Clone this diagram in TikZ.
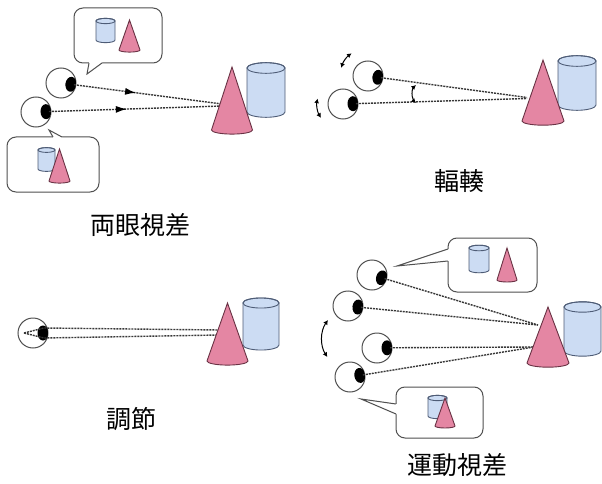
\documentclass[tikz,border=0pt]{standalone}
\usepackage{fontspec}
\usepackage{tikz}
\usetikzlibrary{arrows.meta, decorations.markings, calc}
\newfontfamily\jpfont{Noto Sans CJK JP}
\definecolor{outline}{RGB}{80,80,80}
\definecolor{sightgray}{RGB}{55,55,55}
\definecolor{conefill}{RGB}{228,134,163}
\definecolor{coneline}{RGB}{105,50,68}
\definecolor{cylfill}{RGB}{204,220,243}
\definecolor{cylline}{RGB}{78,92,118}

\tikzset{
  eyeball/.style={circle, draw=outline, line width=1pt, fill=white, minimum size=30pt, inner sep=0pt},
  sightline/.style={draw=sightgray, line width=1.4pt, dash pattern=on 2pt off 1pt},
  midarrow/.style={postaction={decorate}, decoration={markings, mark=at position #1 with {\arrow[solid, black]{Latex[length=11pt,width=7pt]}}}},
  bubble/.style={draw=outline, line width=1pt, rounded corners=9pt, fill=white, inner sep=0pt},
  tailline/.style={draw=outline, line width=1pt, line join=miter},
  conebody/.style={draw=coneline, line width=0.9pt, fill=conefill},
  cylbody/.style={draw=cylline, line width=0.9pt, fill=cylfill},
  turnarrow/.style={line width=1pt, {Latex[length=4.5pt,width=5pt]}-{Latex[length=4.5pt,width=5pt]}},
  caption/.style={font=\jpfont\fontsize{25}{30}\selectfont, inner sep=0pt},
}

% eye: name, x, y, gaze angle
\newcommand{\eyeat}[4]{%
  \node[eyeball] (#1) at (#2,#3) {};
  \begin{scope}
    \clip (#1.center) circle (15pt);
    \fill[shift={(#1.center)}, rotate=#4] (10pt,0) ellipse (5.5pt and 7.5pt);
  \end{scope}
  \coordinate (#1-p) at ($(#1.center)+(#4:13pt)$);
}
% cone: base centre x, base y, half width, height
\newcommand{\coneat}[4]{%
  \filldraw[conebody] (#1,#2-#4) -- (#1-#3,#2)
    arc[start angle=180, end angle=360, x radius=#3pt, y radius=0.2*#3pt] -- cycle;
}
% cylinder: centre x, top y, half width, height
\newcommand{\cylat}[4]{%
  \filldraw[cylbody] (#1-#3,#2) -- (#1-#3,#2+#4)
    arc[start angle=180, end angle=360, x radius=#3pt, y radius=0.28*#3pt] -- (#1+#3,#2)
    arc[start angle=0, end angle=180, x radius=#3pt, y radius=0.28*#3pt] -- cycle;
  \draw[cylbody, fill=none] (#1,#2) ellipse [x radius=#3pt, y radius=0.28*#3pt];
}

\begin{document}
\begin{tikzpicture}[x=1pt, y=-1pt]
    \useasboundingbox (0,0) rectangle (602,484);

    % Binocular disparity
    \node[bubble, minimum width=88pt, minimum height=55pt] (view1) at (118,35.5) {};
    \coordinate (view1-tip) at (87,74);
    \fill[white] (89,61) -- (89,63) -- (view1-tip) -- (102,63) -- (102,61) -- cycle;
    \draw[tailline] (89,63) -- (view1-tip) -- (102,63);
    \cylat{105.5}{21}{9.5}{19}
    \coneat{129.5}{50}{10.5}{30}

    \node[bubble, minimum width=92pt, minimum height=55pt] (view2) at (53,164.5) {};
    \coordinate (view2-tip) at (49,130);
    \fill[white] (53,139) -- (53,137) -- (view2-tip) -- (62,137) -- (62,139) -- cycle;
    \draw[tailline] (53,137) -- (view2-tip) -- (62,137);
    \cylat{46.5}{150}{8.5}{19}
    \coneat{59.5}{181}{10.5}{32}

    \eyeat{bin1}{61}{83}{-7.5}
    \eyeat{bin2}{36}{112}{2}
    \coordinate (bin-tgt1) at (222,104);
    \coordinate (bin-tgt2) at (222,106);
    \draw[sightline, midarrow=0.42] (bin1-p) -- (bin-tgt1);
    \draw[sightline, midarrow=0.45] (bin2-p) -- (bin-tgt2);
    \cylat{266}{68}{19}{44}
    \coneat{232}{130}{20.5}{63}
    \node[caption] (lbl-bin) at (140,225) {両眼視差};

    % Convergence
    \eyeat{conv1}{368}{76}{-7.5}
    \eyeat{conv2}{343}{104}{1.6}
    \coordinate (conv-tgt) at (527,98);
    \draw[sightline] (conv1-p) -- ([yshift=0.5pt]conv-tgt);
    \draw[sightline] (conv2-p) -- ([yshift=-0.5pt]conv-tgt);
    \draw[turnarrow] ([shift={(163:28pt)}]conv1.center) arc[start angle=163, end angle=126, radius=28pt];
    \draw[turnarrow] ([shift={(168:26pt)}]conv2.center) arc[start angle=168, end angle=212, radius=26pt];
    \coordinate (conv-angle) at (424,94);
    \draw[turnarrow] ([shift={(132:12pt)}]conv-angle) arc[start angle=132, end angle=228, radius=12pt];
    \cylat{577}{61}{19}{44}
    \coneat{543}{121}{21}{61}
    \node[caption] (lbl-conv) at (459,181) {輻輳};

    % Accommodation
    \eyeat{acc}{33}{333}{0}
    \coordinate (acc-back) at (24,333);
    \coordinate (acc-tgt1) at (219,330);
    \coordinate (acc-tgt2) at (219,335);
    \draw[sightline] (acc-back) -- (44,328) -- (acc-tgt1);
    \draw[sightline] (acc-back) -- (44,338) -- (acc-tgt2);
    \cylat{261}{303}{18}{42}
    \coneat{227.5}{361}{20.5}{58}
    \node[caption] (lbl-acc) at (131,419) {調節};

    % Motion parallax
    \node[bubble, minimum width=89pt, minimum height=54pt] (view3) at (492.5,265) {};
    \coordinate (view3-tip) at (397,266);
    \fill[white] (450,249) -- (448,249) -- (view3-tip) -- (448,261) -- (450,261) -- cycle;
    \draw[tailline] (448,249) -- (view3-tip) -- (448,261);
    \cylat{479}{248}{10}{22}
    \coneat{507}{280}{10}{32}

    \node[bubble, minimum width=87pt, minimum height=51pt] (view4) at (439.5,412.5) {};
    \coordinate (view4-tip) at (361,399);
    \fill[white] (398,404) -- (396,404) -- (view4-tip) -- (396,414) -- (398,414) -- cycle;
    \draw[tailline] (396,404) -- (view4-tip) -- (396,414);
    \cylat{437.5}{398}{9.5}{18}
    \coneat{445}{426}{10}{28}

    \eyeat{mot1}{372}{275}{-16}
    \eyeat{mot2}{348}{306}{-6}
    \eyeat{mot3}{377}{348}{1}
    \eyeat{mot4}{350}{377}{9}
    \coordinate (mot-tgt1) at (538,325);
    \coordinate (mot-tgt2) at (534,347);
    \draw[sightline] (mot1-p) -- (mot-tgt1);
    \draw[sightline] (mot2-p) -- (mot-tgt1);
    \draw[sightline] (mot3-p) -- (mot-tgt2);
    \draw[sightline] (mot4-p) -- (mot-tgt2);
    \coordinate (mot-pivot) at (355,339);
    \draw[turnarrow] ([shift={(145:33pt)}]mot-pivot) arc[start angle=145, end angle=213, radius=33pt];
    \cylat{582.5}{307}{18.5}{44}
    \coneat{548}{363}{21}{56}
    \node[caption] (lbl-mot) at (457,465) {運動視差};
\end{tikzpicture}
\end{document}
